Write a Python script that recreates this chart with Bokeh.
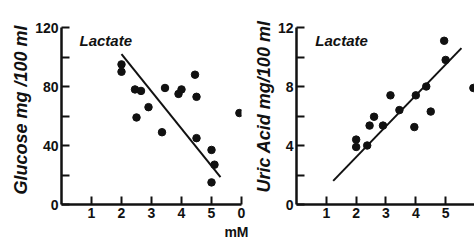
from bokeh.plotting import figure
from bokeh.layouts import row
from bokeh.models import FixedTicker, Label, Title
from bokeh.embed import file_html
from bokeh.resources import INLINE

# ---- data ----
lact_glu = [2.0, 2.0, 2.45, 2.65, 2.5, 2.9, 3.45, 3.35, 3.9, 4.0, 4.45, 4.5, 4.5, 5.0, 5.1, 5.0, 5.93]
glucose = [95, 90, 78, 77, 59, 66, 79, 49, 75, 78, 88, 73, 45, 37, 27, 15, 62]
glu_fit_x = [2.0, 5.3]
glu_fit_y = [102, 18.5]

lact_uric = [2.0, 2.0, 2.37, 2.45, 2.6, 2.9, 3.15, 3.45, 3.95, 4.0, 4.35, 4.5, 4.95, 5.0, 5.93]
uric = [4.4, 3.9, 4.0, 5.35, 5.95, 5.35, 7.4, 6.4, 5.25, 7.4, 8.0, 6.3, 11.1, 9.8, 7.9]
uric_fit_x = [1.23, 5.53]
uric_fit_y = [1.6, 10.6]

x_ticks = [1, 2, 3, 4, 5, 6]
x_tick_labels_left = {1: "1", 2: "2", 3: "3", 4: "4", 5: "5", 6: "0"}
glu_ticks = [0, 20, 40, 60, 80, 100, 120]
glu_labels = {0: "0", 20: "", 40: "40", 60: "", 80: "80", 100: "", 120: "120"}
uric_ticks = [0, 2, 4, 6, 8, 10, 12]
uric_labels = {0: "0", 2: "", 4: "4", 6: "", 8: "8", 10: "", 12: "12"}
panel_title = "Lactate"
glu_ylabel = "Glucose  mg /100 ml"
uric_ylabel = "Uric Acid  mg/100 ml"
x_unit = "mM"

FONT = "Liberation Sans"
INK = "#111111"


def style(p, yticks, ylabels, xlabels):
    p.grid.visible = False
    p.outline_line_color = None
    for ax in (p.xaxis[0], p.yaxis[0]):
        ax.axis_line_width = 2.5
        ax.axis_line_color = INK
        ax.major_tick_line_width = 2
        ax.major_tick_line_color = INK
        ax.major_tick_in = 8
        ax.major_tick_out = 0
        ax.minor_tick_line_color = None
        ax.major_label_text_font = FONT
        ax.major_label_text_font_style = "bold"
        ax.major_label_text_font_size = "14px"
        ax.major_label_text_color = INK
    p.xaxis.ticker = FixedTicker(ticks=x_ticks)
    p.xaxis.major_label_overrides = xlabels
    p.xaxis.major_label_standoff = 3
    p.yaxis.ticker = FixedTicker(ticks=yticks)
    p.yaxis.major_label_overrides = ylabels
    p.yaxis.major_label_standoff = 3


def side_title(text, size, style_, offset, align, standoff=4):
    return Title(text=text, align=align, offset=offset, standoff=standoff,
                 text_font=FONT, text_font_style=style_, text_font_size=size,
                 text_color=INK)


# ---- left panel: glucose ----
p1 = figure(width=250, height=245, x_range=(0, 6.0), y_range=(0, 120),
            output_backend="svg", toolbar_location=None,
            min_border_left=61, min_border_right=9, min_border_top=27, min_border_bottom=40)
style(p1, glu_ticks, glu_labels, x_tick_labels_left)
p1.scatter(lact_glu, glucose, size=7.5, color=INK)
p1.line(glu_fit_x, glu_fit_y, line_width=2, color=INK)
p1.add_layout(Label(x=0.6, y=105.2, text=panel_title, text_font=FONT,
                    text_font_style="bold italic", text_font_size="15px", text_color=INK))
p1.add_layout(side_title(glu_ylabel, "18px", "bold italic", 10, "left"), "left")
p1.add_layout(side_title(x_unit, "14px", "bold", -7, "right", standoff=3), "below")

# ---- right panel: uric acid ----
p2 = figure(width=224, height=245, x_range=(0, 5.967), y_range=(0, 12),
            output_backend="svg", toolbar_location=None,
            min_border_left=45, min_border_right=0, min_border_top=25, min_border_bottom=41)
style(p2, uric_ticks, uric_labels, {t: str(t) for t in x_ticks})
p2.scatter(lact_uric, uric, size=7.5, color=INK)
p2.line(uric_fit_x, uric_fit_y, line_width=2, color=INK)
p2.add_layout(Label(x=0.63, y=10.52, text=panel_title, text_font=FONT,
                    text_font_style="bold italic", text_font_size="15px", text_color=INK))
p2.add_layout(side_title(uric_ylabel, "18px", "bold italic", 12, "left", standoff=2), "left")

layout = row(p1, p2, spacing=0)
open("out.html", "w").write(file_html(layout, INLINE))
